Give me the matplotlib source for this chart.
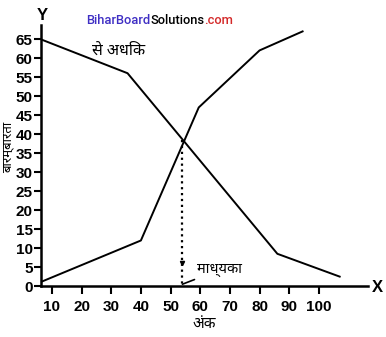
import matplotlib
matplotlib.use("Agg")
import matplotlib.pyplot as plt

# data
less_x = [6, 40, 59.5, 80, 94.5]
less_y = [1, 12, 47, 62, 67]
more_x = [6, 35.5, 86, 107]
more_y = [65, 56, 8.5, 2.5]
median_x = 54
median_y = 38.5
x_ticks = [10, 20, 30, 40, 50, 60, 70, 80, 90, 100]
y_ticks = [0, 5, 10, 15, 20, 25, 30, 35, 40, 45, 50, 55, 60, 65]

DEV = ['Noto Sans Devanagari', 'Lohit Devanagari', 'Noto Sans', 'DejaVu Sans']


def main():
    plt.rcParams['font.family'] = ['Liberation Sans', 'DejaVu Sans']
    fig = plt.figure(figsize=(3.86, 3.37), dpi=100)
    ax = fig.add_axes([0.106, 0.151, 0.847, 0.775])

    ax.plot(less_x, less_y, color='black', lw=1.4)
    ax.plot(more_x, more_y, color='black', lw=1.4)
    ax.plot([median_x, median_x], [median_y, 0.5], color='black', lw=1.6, ls=':')
    ax.plot([median_x], [6], marker='v', color='black', ms=3)

    ax.set_xlim(6.3, 116.5)
    ax.set_ylim(0, 68.7)
    ax.set_xticks(x_ticks)
    ax.set_yticks(y_ticks)
    for s in ['top', 'right']:
        ax.spines[s].set_visible(False)
    for s in ['left', 'bottom']:
        ax.spines[s].set_linewidth(1.8)
    ax.tick_params(direction='out', length=5, width=1.5, labelsize=11, pad=1)
    ax.tick_params(axis='x', pad=4, length=6)
    for lab in ax.get_xticklabels() + ax.get_yticklabels():
        lab.set_fontweight('bold')

    ax.text(23.5, 62, 'से अधिक', family=DEV, fontsize=11.5, fontweight='bold',
            va='center')
    ax.annotate('माध्यका', xy=(median_x, 0.5), xytext=(59, 4.3),
                family=DEV, fontsize=10.5, fontweight='bold', va='center',
                arrowprops=dict(arrowstyle='-', color='black', lw=1.2,
                                shrinkA=0, shrinkB=0))
    ax.set_ylabel('बारम्बारता', family=DEV, fontsize=9.5, fontweight='bold')
    ax.yaxis.set_label_coords(-0.08, 0.53)
    ax.set_xlabel('अंक', family=DEV, fontsize=11, fontweight='bold', labelpad=2)

    fig.text(0.109, 0.955, 'Y', fontsize=12, fontweight='bold', ha='center', va='center')
    fig.text(0.978, 0.148, 'X', fontsize=12, fontweight='bold', ha='center', va='center')

    # watermark in three colours
    fig.canvas.draw()
    r = fig.canvas.get_renderer()
    x0 = 86
    for txt, col in [('BiharBoard', '#3f2fc4'), ('Solutions', 'black'), ('.com', '#d42a2a')]:
        t = fig.text(x0 / 386, 1 - 20 / 337, txt, color=col, fontsize=9.3,
                     family='Roboto', fontweight='medium', va='center')
        x0 += t.get_window_extent(r).width

    fig.savefig('out.png', dpi=100)


if __name__ == "__main__":
    main()
